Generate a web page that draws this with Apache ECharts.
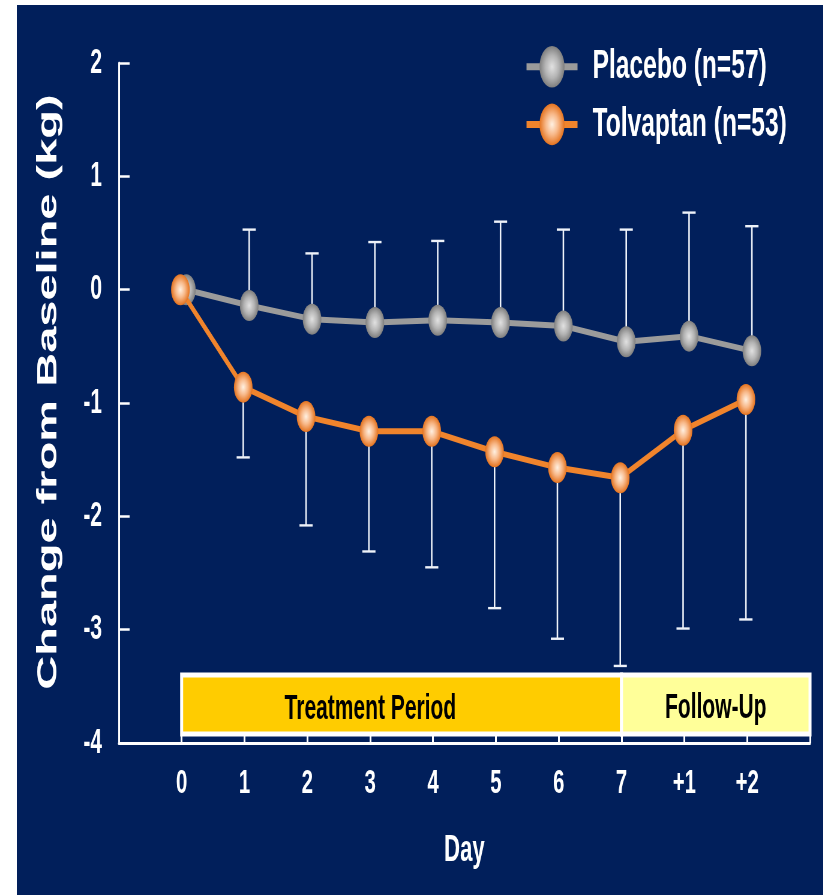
<!DOCTYPE html>
<html>
<head>
<meta charset="utf-8">
<title>Change from Baseline in Body Weight</title>
<script src="https://cdn.jsdelivr.net/npm/echarts@6/dist/echarts.min.js"></script>
<style>
  html, body { margin: 0; padding: 0; width: 823px; height: 895px; overflow: hidden; background: #ffffff; }
  #panel { position: absolute; left: 17px; top: 5px; right: 0; bottom: 0; background: #011f5b; }
  /* the slide artwork is laid out wide and narrowed horizontally */
  #chart { position: absolute; left: 0; top: 0; width: 1372px; height: 895px;
           transform: scaleX(0.6); transform-origin: 0 0; }
</style>
</head>
<body>
<div id="panel"></div>
<div id="chart"></div>
<script>
// Day labels along the x axis (treatment days 0-7, then follow-up days)
const dayLabels = ['0', '1', '2', '3', '4', '5', '6', '7', '+1', '+2'];

// Mean change from baseline (kg) and the end of each error bar
const placeboMean   = [0, -0.14, -0.26, -0.29, -0.27, -0.29, -0.32, -0.46, -0.41, -0.54];
const placeboUpper  = [null, 0.53, 0.32, 0.42, 0.43, 0.60, 0.53, 0.53, 0.68, 0.56];
const tolvaptanMean  = [0, -0.86, -1.12, -1.25, -1.25, -1.43, -1.57, -1.66, -1.24, -0.97];
const tolvaptanLower = [null, -1.48, -2.08, -2.31, -2.45, -2.81, -3.08, -3.32, -2.99, -2.91];

const seriesNames = ['Placebo (n=57)', 'Tolvaptan (n=53)'];
const periodNames = ['Treatment Period', 'Follow-Up'];

// small horizontal shift so the two groups do not sit exactly on top of each other
const placeboShift = 0.075;
const tolvaptanShift = -0.02;

const FONT = '"Liberation Sans", Arial, Helvetica, sans-serif';
const PLACEBO_LINE = '#9b9b9b';
const TOLVAPTAN_LINE = '#f0842c';

function points(values, shift) {
  return values.map((v, i) => [i + shift, v]);
}
function bars(means, ends, shift) {
  const out = [];
  means.forEach((m, i) => {
    if (ends[i] !== null) out.push([i + shift, m, ends[i]]);
  });
  return out;
}

function renderErrorBar(params, api) {
  const x = api.value(0);
  const p1 = api.coord([x, api.value(1)]);
  const p2 = api.coord([x, api.value(2)]);
  const half = 11;
  const stroke = '#eef2f9';
  return {
    type: 'group',
    children: [
      { type: 'line', shape: { x1: p1[0], y1: p1[1], x2: p2[0], y2: p2[1] },
        style: { stroke: stroke, lineWidth: 2.6 } },
      { type: 'line', shape: { x1: p2[0] - half, y1: p2[1], x2: p2[0] + half, y2: p2[1] },
        style: { stroke: stroke, lineWidth: 2.4 } }
    ]
  };
}

const grayBall = {
  type: 'radial', x: 0.5, y: 0.5, r: 0.5,
  colorStops: [
    { offset: 0, color: '#e2e2e2' },
    { offset: 0.55, color: '#b4b4b4' },
    { offset: 1, color: '#7e7e7e' }
  ]
};
const orangeBall = {
  type: 'radial', x: 0.5, y: 0.5, r: 0.5,
  colorStops: [
    { offset: 0, color: '#fff1e2' },
    { offset: 0.5, color: '#f8b98a' },
    { offset: 1, color: '#e4731f' }
  ]
};

const chart = echarts.init(document.getElementById('chart'), null, { renderer: 'canvas' });

chart.setOption({
  animation: false,
  backgroundColor: 'transparent',
  textStyle: { fontFamily: FONT },
  grid: { left: 198, right: 22, top: 63, bottom: 152, containLabel: false },
  legend: {
    orient: 'vertical',
    left: 869,
    top: 41,
    itemWidth: 85,
    itemHeight: 52,
    itemGap: 16,
    selectedMode: false,
    data: [
      { name: seriesNames[0], lineStyle: { color: PLACEBO_LINE, width: 7 } },
      { name: seriesNames[1], lineStyle: { color: TOLVAPTAN_LINE, width: 7 } }
    ],
    textStyle: { color: '#ffffff', fontSize: 41, fontWeight: 'bold', fontFamily: FONT,
                 padding: [0, 0, 0, 20] }
  },
  xAxis: {
    type: 'value',
    min: -1,
    max: 10,
    interval: 1,
    name: 'Day',
    nameLocation: 'middle',
    nameGap: 89,
    nameTextStyle: { color: '#ffffff', fontSize: 37, fontWeight: 'bold', fontFamily: FONT },
    axisLine: { show: true, onZero: false, lineStyle: { color: '#ffffff', width: 3 } },
    axisTick: { show: true, inside: true, length: 9, lineStyle: { color: '#ffffff', width: 3 } },
    axisLabel: {
      color: '#ffffff', fontSize: 34, fontWeight: 'bold', fontFamily: FONT, margin: 24,
      formatter: v => (v >= 0 && v < dayLabels.length) ? dayLabels[v] : ''
    },
    splitLine: { show: false }
  },
  yAxis: {
    type: 'value',
    min: -4,
    max: 2,
    interval: 1,
    name: 'Change from Baseline (kg)',
    nameLocation: 'middle',
    nameGap: 93,
    nameTextStyle: { color: '#ffffff', fontSize: 47, fontWeight: 'bold', fontFamily: FONT,
                     padding: [0, 0, 0, 22] },
    axisLine: { show: true, onZero: false, lineStyle: { color: '#ffffff', width: 3 } },
    axisTick: { show: true, inside: true, length: 18, lineStyle: { color: '#ffffff', width: 2.5 } },
    axisLabel: { color: '#ffffff', fontSize: 35, fontWeight: 'bold', fontFamily: FONT,
                 margin: 28, padding: [12, 0, 0, 0] },
    splitLine: { show: false }
  },
  series: [
    {
      // period band along the bottom of the plot
      type: 'line',
      data: [],
      silent: true,
      markArea: {
        silent: true,
        itemStyle: { borderColor: '#ffffff', borderWidth: 5 },
        label: {
          show: true, position: 'inside', color: '#000000', fontSize: 35, fontWeight: 'bold',
          fontFamily: FONT, textShadowColor: 'rgba(255,255,255,0.55)', textShadowOffsetX: 2,
          textShadowOffsetY: 2, textShadowBlur: 0
        },
        data: [
          [ { name: periodNames[0], xAxis: 0, yAxis: -3.40, itemStyle: { color: '#ffcc00' },
              label: { offset: [-52, 5] } },
            { xAxis: 7, yAxis: -3.92 } ],
          [ { name: periodNames[1], xAxis: 7, yAxis: -3.40, itemStyle: { color: '#ffff99' },
              label: { offset: [0, 4] } },
            { xAxis: 10, yAxis: -3.92 } ]
        ]
      }
    },
    {
      type: 'custom',
      name: 'placebo-sd',
      renderItem: renderErrorBar,
      data: bars(placeboMean, placeboUpper, placeboShift),
      silent: true,
      z: 1
    },
    {
      type: 'custom',
      name: 'tolvaptan-sd',
      renderItem: renderErrorBar,
      data: bars(tolvaptanMean, tolvaptanLower, tolvaptanShift),
      silent: true,
      z: 1
    },
    {
      name: seriesNames[0],
      type: 'line',
      data: points(placeboMean, placeboShift),
      symbol: 'circle',
      symbolSize: 31,
      lineStyle: { color: PLACEBO_LINE, width: 6 },
      itemStyle: { color: grayBall, borderWidth: 0 },
      z: 3
    },
    {
      name: seriesNames[1],
      type: 'line',
      data: points(tolvaptanMean, tolvaptanShift),
      symbol: 'circle',
      symbolSize: 31,
      lineStyle: { color: TOLVAPTAN_LINE, width: 6 },
      itemStyle: { color: orangeBall, borderWidth: 0 },
      z: 4
    }
  ]
});
</script>
</body>
</html>
